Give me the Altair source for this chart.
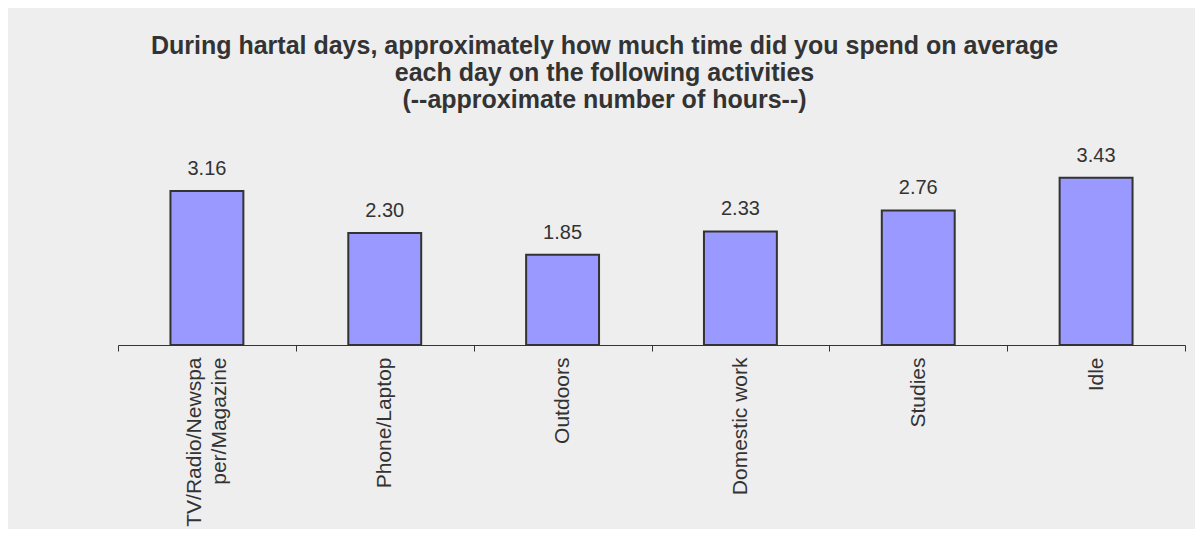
import altair as alt
import pandas as pd

categories = ["TV/Radio/Newspa\nper/Magazine\u00a0\u00a0\u00a0\u00a0", "Phone/Laptop", "Outdoors",
              "Domestic work", "Studies", "Idle"]
values = [3.16, 2.30, 1.85, 2.33, 2.76, 3.43]
title_lines = [
    "During hartal days, approximately how much time did you spend on average",
    "each day on the following activities",
    "(--approximate number of hours--)",
]

df = pd.DataFrame({"activity": categories, "hours": values})

FONT = "Liberation Sans"

x = alt.X("activity:N", sort=categories, title=None,
          scale=alt.Scale(paddingInner=0, paddingOuter=0),
          axis=alt.Axis(labelAngle=-90, labelFontSize=21, labelFont=FONT,
                        labelColor="#333333", labelLineHeight=25,
                        labelExpr="split(datum.label, '\\n')",
                        labelOffset={"condition": {"test": "datum.index == 0", "value": -12},
                                     "value": 0},
                        labelPadding=6, tickSize=6, tickColor="#333333",
                        domainColor="#333333", tickBand="extent",
                        labelLimit=400))
y = alt.Y("hours:Q", scale=alt.Scale(domain=[0, 4]), axis=None)

bars = alt.Chart(df).mark_bar(color="#9999FF", stroke="#333333", strokeWidth=2,
                              width=alt.RelativeBandSize(0.41)).encode(x=x, y=y)
labels = alt.Chart(df).mark_text(fontSize=20, font=FONT, color="#333333",
                                 baseline="alphabetic", dy=-16).encode(
    x=x, y=y, text=alt.Text("hours:Q", format=".2f"))

chart = (bars + labels).properties(
    width=1067, height=195,
    background="#EEEEEE",
    autosize=alt.AutoSizeParams(type="none"),
    padding={"left": 110, "right": 10, "top": 142, "bottom": 184},
    title=alt.TitleParams(title_lines, fontSize=25, font=FONT, fontWeight="bold",
                          color="#333333", lineHeight=27, anchor="middle",
                          dx=-47, offset=33),
).configure_view(stroke=None)

chart.save("out.html", embed_options={"renderer": "svg", "actions": False})
